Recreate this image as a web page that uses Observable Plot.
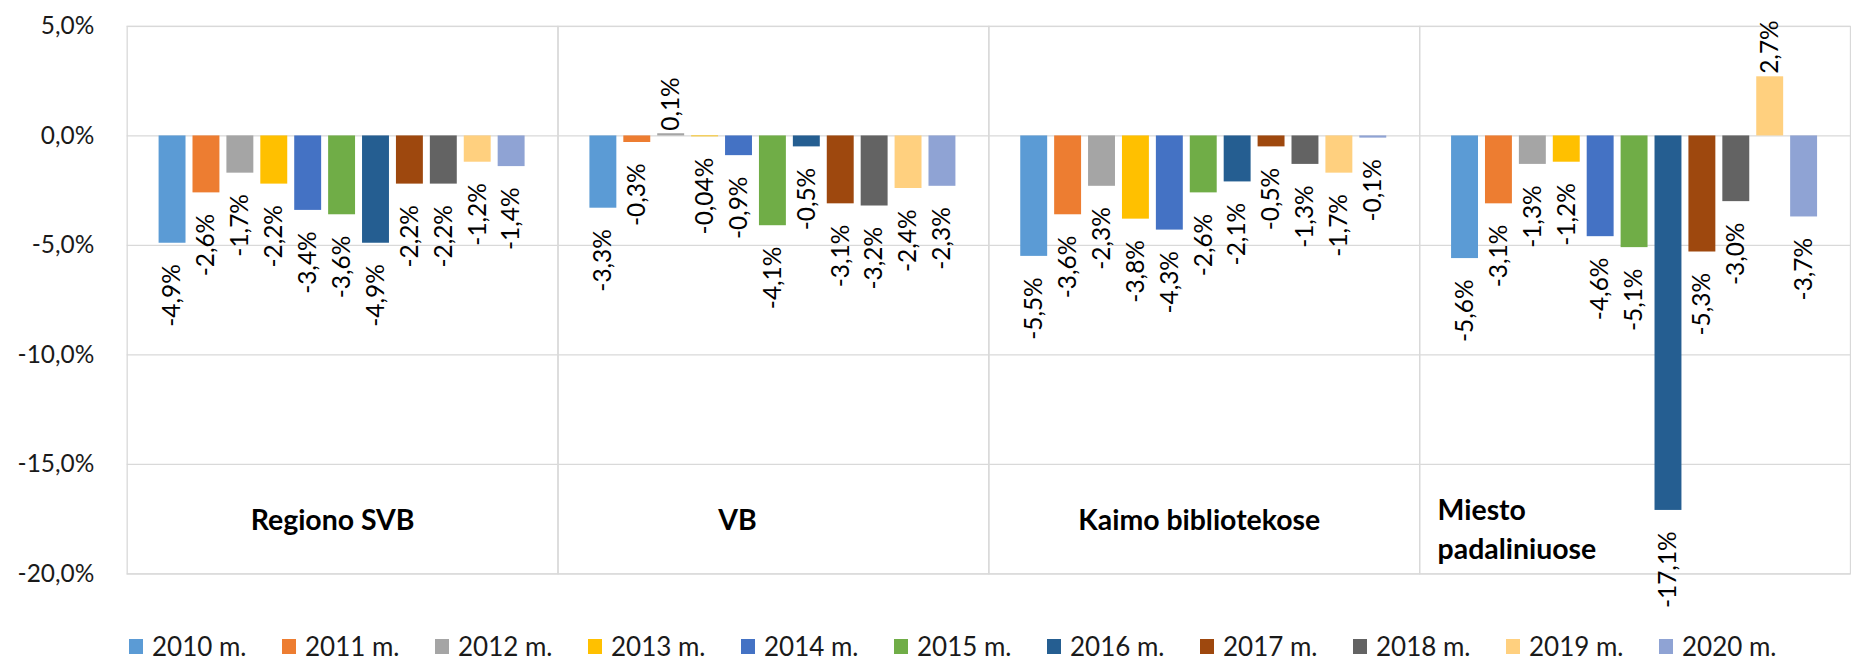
<!DOCTYPE html>
<html><head><meta charset="utf-8">
<script src="https://cdn.jsdelivr.net/npm/d3@7"></script>
<script src="https://cdn.jsdelivr.net/npm/@observablehq/plot@0.6"></script>
<style>
html,body{margin:0;padding:0;background:#fff;overflow:hidden;width:1851px;height:660px}
#chart svg{display:block}
#legend .lg-swatches, #legend .lg{font-family:Lato, sans-serif !important;font-size:26px !important;color:#1a1a1a !important;min-height:0 !important;height:30px !important;margin:0 !important;padding-left:129px !important;display:flex !important;flex-wrap:nowrap !important;align-items:center !important}
#legend .lg-swatch{margin:0 !important;width:153px;flex:0 0 153px;display:inline-flex !important;align-items:center;white-space:nowrap;font-size:26px !important}
#legend .lg-swatch svg{margin:0 9px 0 0 !important}
</style>
</head><body>
<div id="chart"></div>
<div id="legend"></div>
<script>
const categories = ["Regiono SVB", "VB", "Kaimo bibliotekose", "Miesto padaliniuose"];
const years = ["2010 m.", "2011 m.", "2012 m.", "2013 m.", "2014 m.", "2015 m.", "2016 m.", "2017 m.", "2018 m.", "2019 m.", "2020 m."];
const colors = ["#5B9BD5", "#ED7D31", "#A5A5A5", "#FFC000", "#4472C4", "#70AD47", "#255E91", "#9E480E", "#636363", "#FFD07F", "#8FA3D4"];
const regionoSVB = [-4.9, -2.6, -1.7, -2.2, -3.4, -3.6, -4.9, -2.2, -2.2, -1.2, -1.4];
const vb = [-3.3, -0.3, 0.1, -0.04, -0.9, -4.1, -0.5, -3.1, -3.2, -2.4, -2.3];
const kaimo = [-5.5, -3.6, -2.3, -3.8, -4.3, -2.6, -2.1, -0.5, -1.3, -1.7, -0.1];
const miesto = [-5.6, -3.1, -1.3, -1.2, -4.6, -5.1, -17.1, -5.3, -3.0, 2.7, -3.7];
const yTicks = [5, 0, -5, -10, -15, -20];

const series = [regionoSVB, vb, kaimo, miesto];
const rows = categories.flatMap((cat, i) => years.map((year, j) => ({cat, year, v: series[i][j]})));
const fmtPct = v => (Math.abs(v) < 0.1 && v !== 0 ? v.toFixed(2) : v.toFixed(1)).replace(".", ",") + "%";
const fmtTick = v => v.toFixed(1).replace(".", ",") + "%";

const labelDx = {"Regiono SVB": -10, "VB": -36, "Kaimo bibliotekose": -5};
const grid = "#d9d9d9";

const chart = Plot.plot({
  width: 1856, height: 633,
  marginLeft: 126, marginRight: 0, marginTop: 26, marginBottom: 58,
  style: {fontFamily: "Lato, sans-serif", fontSize: "24.5px", color: "#1a1a1a", background: "#fff", overflow: "visible"},
  facet: {data: rows, x: "cat"},
  fx: {domain: categories, padding: 0, axis: null},
  x: {domain: years, paddingInner: 0.2, paddingOuter: 0.885, axis: null},
  y: {domain: [-20, 5], ticks: yTicks, tickFormat: fmtTick, tickSize: 0, tickPadding: 33, label: null},
  color: {domain: years, range: colors},
  marks: [
    Plot.ruleY(yTicks, {stroke: grid, strokeWidth: 1.3}),
    Plot.frame({stroke: grid, strokeWidth: 1.3}),
    Plot.barY(rows, {x: "year", y: "v", fill: "year"}),
    Plot.text(rows, {filter: d => d.v < 0, x: "year", y: "v", text: d => fmtPct(d.v), rotate: -90, textAnchor: "end", lineAnchor: "middle", dy: 21, fontSize: 24.5, fill: "#000"}),
    Plot.text(rows, {filter: d => d.v >= 0, x: "year", y: "v", text: d => fmtPct(d.v), rotate: -90, textAnchor: "start", lineAnchor: "middle", dy: -3, fontSize: 24.5, fill: "#000"}),
    ...Object.keys(labelDx).map(c => Plot.text(rows, {
      filter: d => d.cat === c && d.year === years[0], text: "cat",
      frameAnchor: "bottom", lineAnchor: "middle", dy: -53, dx: labelDx[c],
      fontSize: 28.5, fontWeight: "bold", fill: "#000"
    })),
    Plot.text(rows, {
      filter: d => d.cat === categories[3] && d.year === years[0],
      text: d => d.cat.replace(" ", "\n"),
      frameAnchor: "bottom-left", textAnchor: "start", lineAnchor: "middle", lineHeight: 1.38,
      dx: 18, dy: -47, fontSize: 28.5, fontWeight: "bold", fill: "#000"
    })
  ]
});
document.getElementById("chart").appendChild(chart);

const legend = Plot.legend({
  color: {domain: years, range: colors},
  legend: "swatches", swatchWidth: 14, swatchHeight: 15, className: "lg"
});
document.getElementById("legend").appendChild(legend);
</script>
</body></html>
